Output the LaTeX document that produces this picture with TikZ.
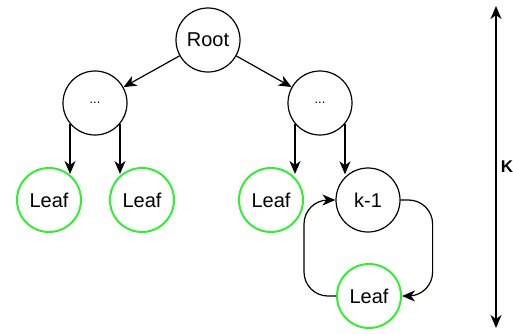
\documentclass[tikz,border=0pt]{standalone}
\usepackage{fontspec}
\setmainfont{Liberation Sans}
\usetikzlibrary{arrows.meta}
\definecolor{leafgreen}{HTML}{33EE33}
\begin{document}
\begin{tikzpicture}[x=1pt,y=-1pt,
  tnode/.style={circle,draw=black,line width=1.2pt,minimum size=64pt,inner sep=0pt,font=\fontsize{20}{24}\selectfont},
  leafnode/.style={tnode,draw=leafgreen,line width=2pt},
  dotnode/.style={tnode,font=\fontsize{13}{15}\selectfont},
  arr/.style={line width=1.2pt,-{Stealth[length=13pt,width=11pt,inset=4pt]}},
  curvearr/.style={arr,rounded corners=24pt}]
\useasboundingbox (0,0) rectangle (513,333);
\node[tnode] (root) at (208,40) {Root};
\node[dotnode] (dl) at (95,103) {...};
\node[dotnode] (dr) at (320,103) {...};
\node[leafnode] (l1) at (49,200) {Leaf};
\node[leafnode] (l2) at (142,200) {Leaf};
\node[leafnode] (l3) at (271,200) {Leaf};
\node[tnode] (k) at (368,200) {k-1};
\node[leafnode] (l4) at (369,296) {Leaf};
\draw[arr] (root) -- (dl);
\draw[arr] (root) -- (dr);
\draw[arr] (dl.-140) -- (dl.-140 |- l1.52);
\draw[arr] (dl.-40) -- (dl.-40 |- l2.128);
\draw[arr] (dr.-140) -- (dr.-140 |- l3.52);
\draw[arr] (dr.-40) -- (dr.-40 |- k.128);
\draw[curvearr] (l4.west) -- ++(-32,0) |- (k.west);
\draw[curvearr] (k.east) -- ++(32,0) |- (l4.east);
\coordinate (ktop) at (496,6);
\coordinate (kbot) at (496,328);
\draw[line width=1.2pt,{Stealth[length=13pt,width=11pt,inset=4pt]}-{Stealth[length=13pt,width=11pt,inset=4pt]}] (ktop) -- (kbot) node[midway,right=1pt,font=\bfseries\fontsize{17}{19}\selectfont] (klabel) {K};
\end{tikzpicture}
\end{document}
